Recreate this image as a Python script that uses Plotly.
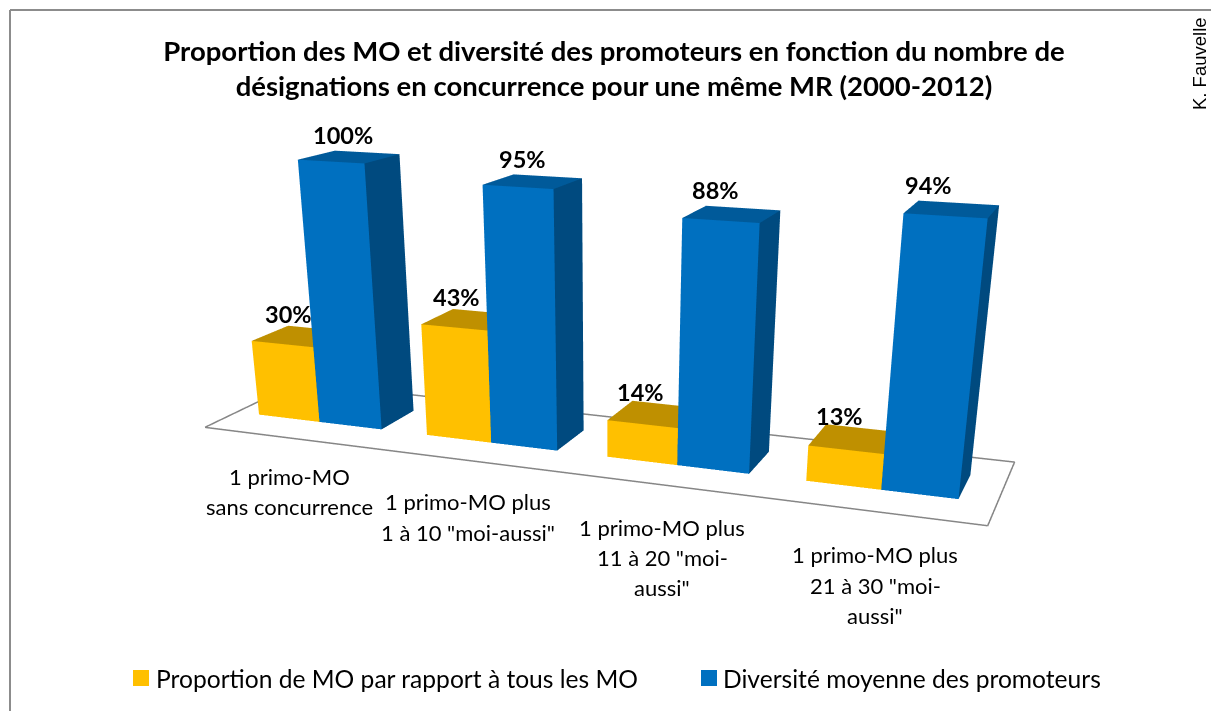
import plotly.graph_objects as go

# ---------- data ----------
categories = ['1 primo-MO<br>sans concurrence', '1 primo-MO plus<br>1 à 10 "moi-aussi"',
              '1 primo-MO plus<br>11 à 20 "moi-<br>aussi"', '1 primo-MO plus<br>21 à 30 "moi-<br>aussi"']
series = ['Proportion de MO par rapport à tous les MO', 'Diversité moyenne des promoteurs']
yellow_vals = [.30, .43, .14, .13]
blue_vals = [1.0, .95, .88, .94]

# ---------- layout constants ----------
W, H = 1211, 1250           # taller page than the window: gives the flatter perspective of the original
group_pos = [.5066, 1.4974, 2.4843, 3.4753]
bar_w = [.3686, .3604, .3599, .3535]
y_front, y_back = .3189, .7046
faces_idx = [(0, 1, 5, 0), (0, 5, 4, 0), (1, 2, 6, 1), (1, 6, 5, 1), (4, 5, 6, 2), (4, 6, 7, 2)]


def faces(vals, off):
    X, Y, Z, I, J, K, FC = [], [], [], [], [], [], []
    for i, v in enumerate(vals):
        x0 = group_pos[i] + (off - 1) * bar_w[i]
        x1 = x0 + bar_w[i]
        n = len(X)
        X += [x0, x1, x1, x0, x0, x1, x1, x0]
        Y += [y_front, y_front, y_back, y_back, y_front, y_front, y_back, y_back]
        Z += [0, 0, 0, 0, v, v, v, v]
        for a, b, c, col in faces_idx:
            I.append(n + a); J.append(n + b); K.append(n + c); FC.append(col)
    return X, Y, Z, I, J, K, FC


fig = go.Figure()
light = dict(ambient=1, diffuse=0, specular=0, fresnel=0, roughness=1)
for name, vals, off, cols in [(series[0], yellow_vals, 0, ['#FFC000', '#BF9000', '#BF9000']),
                              (series[1], blue_vals, 1, ['#0070C0', '#004A7F', '#005A9A'])]:
    X, Y, Z, I, J, K, FC = faces(vals, off)
    fig.add_trace(go.Mesh3d(x=X, y=Y, z=Z, i=I, j=J, k=K, facecolor=[cols[q] for q in FC], flatshading=True,
                            lighting=light, showlegend=False, name=name))
fig.add_trace(go.Scatter3d(x=[0, 4, 4, 0, 0], y=[0, 0, 1, 1, 0], z=[0, 0, 0, 0, 0], mode='lines',
                           line=dict(color='#868686', width=3), showlegend=False))


def ann(px, py, text, size, **k):
    d = dict(x=px / W, y=1 - py / H, xref='paper', yref='paper', text=text, showarrow=False, font=dict(size=size),
             xanchor='center', yanchor='middle')
    d.update(k)
    return d


anns = []
cat_x = [289, 468, 662, 875]
cat_y = [477, 502, 527, 555]
for n, cat in enumerate(categories):
    for m, line in enumerate(cat.split('<br>')):
        anns.append(ann(cat_x[n], cat_y[n] + 30 * m, line, 22))
anns.append(ann(154, 678, series[0], 24.6, xanchor='left'))
anns.append(ann(721, 678, series[1], 24.6, xanchor='left'))
anns.append(ann(1199, 64, 'K. Fauvelle', 18.5, textangle=-90, font=dict(size=18.5, family='Liberation Sans')))

labels = []
for vals, off, fx, yy, ys in [(yellow_vals, 0, .30, (y_front + y_back) / 2, 21), (blue_vals, 1, .13, y_back, 16)]:
    for i, v in enumerate(vals):
        labels.append(dict(x=group_pos[i] + (off - 1) * bar_w[i] + fx * bar_w[i], y=yy, z=v,
                           text='%d%%' % round(v * 100), showarrow=False, yshift=ys,
                           font=dict(size=23.5, family='Lato', color='black', weight='bold')))

shapes = [
    dict(type='rect', xref='paper', yref='paper', x0=133 / W, x1=149 / W, y0=1 - 686 / H, y1=1 - 670 / H,
         fillcolor='#FFC000', line_width=0),
    dict(type='rect', xref='paper', yref='paper', x0=701 / W, x1=717 / W, y0=1 - 686 / H, y1=1 - 670 / H,
         fillcolor='#0070C0', line_width=0),
    dict(type='line', xref='paper', yref='paper', x0=10 / W, x1=1, y0=1 - 10 / H, y1=1 - 10 / H,
         line=dict(color='#8C8C8C', width=2)),
    dict(type='line', xref='paper', yref='paper', x0=10 / W, x1=10 / W, y0=1 - 10 / H, y1=0,
         line=dict(color='#8C8C8C', width=2)),
]

fig.update_layout(
    width=W, height=H, margin=dict(l=0, r=0, t=0, b=0), paper_bgcolor='white', showlegend=False,
    font=dict(family='Lato', color='black'),
    title=dict(text='Proportion des MO et diversité des promoteurs en fonction du nombre de<br>'
                    'désignations en concurrence pour une même MR (2000-2012)',
               x=614 / W, xanchor='center', y=1 - 60.5 / H, yanchor='middle',
               font=dict(size=27.5, family='Lato', weight='bold', color='black')),
    annotations=anns, shapes=shapes,
    scene=dict(domain=dict(x=[0, 1], y=[0, 1]),
               xaxis=dict(visible=False, range=[0, 4]),
               yaxis=dict(visible=False, range=[0, 1]),
               zaxis=dict(visible=False, range=[0, 1.2]),
               annotations=labels, aspectmode='manual',
               aspectratio=dict(x=1.5897, y=.3666, z=.6331),
               camera=dict(eye=dict(x=1.0467, y=-2.6913, z=.6154),
                           center=dict(x=.1638, y=-.3767, z=-.5252),
                           up=dict(x=0, y=0, z=1))))
fig.write_html('out.html', config=dict(displayModeBar=False),
               post_script="document.documentElement.style.overflow='hidden';"
                           "document.body.style.overflow='hidden';document.body.style.margin='0';")
